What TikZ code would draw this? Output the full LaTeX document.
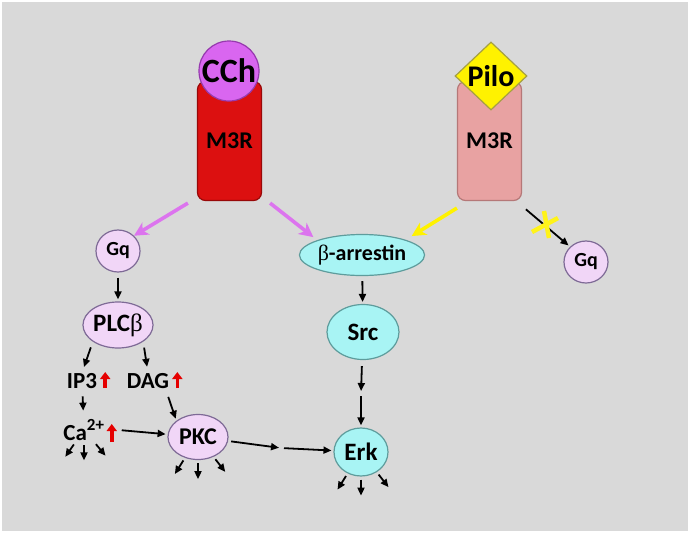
\documentclass[tikz,border=0pt]{standalone}
\usepackage{fontspec}
\setmainfont{Carlito}
\newfontfamily\grkfont{Liberation Serif}
\usetikzlibrary{shapes.geometric,arrows.meta}
\definecolor{bggrey}{HTML}{D9D9D9}
\definecolor{lilac}{HTML}{F1D6F7}
\definecolor{lilacline}{HTML}{7E6A96}
\definecolor{aqua}{HTML}{A8F4F4}
\definecolor{aqualine}{HTML}{5E9C9C}
\definecolor{violet}{HTML}{DC74EE}
\definecolor{cchfill}{HTML}{D966F0}
\definecolor{cchline}{HTML}{963AAE}
\definecolor{rfill}{HTML}{DC1010}
\definecolor{rline}{HTML}{980808}
\definecolor{pfill}{HTML}{E8A2A2}
\definecolor{pline}{HTML}{B57878}
\newcommand{\fs}[1]{\fontsize{#1}{#1}\selectfont\bfseries}
\begin{document}
\begin{tikzpicture}[x=1pt,y=-1pt,
  lil/.style={ellipse,draw=lilacline,fill=lilac,line width=1.2pt,inner sep=0pt},
  aq/.style={ellipse,draw=aqualine,fill=aqua,line width=1.2pt,inner sep=0pt},
  rec/.style={rectangle,rounded corners=8pt,line width=1.2pt,minimum width=64pt,minimum height=119pt},
  lbl/.style={inner sep=0pt,font=\fs{23}},
  arr/.style={-{Triangle[length=8pt,width=7pt]},line width=1.8pt,shorten <=3pt,shorten >=2pt},
  varr/.style={-{Stealth[length=14pt,width=14pt,inset=4pt]},line width=3.6pt},
  risearr/.style={-{Triangle[length=7pt,width=10pt]},line width=3.5pt,red!90!black},
  xmark/.style={line width=4.5pt,yellow!90!white}]
\fill[white] (0,0) rectangle (690,533);
\fill[bggrey] (2,2) rectangle (688,531);
\node[rec,draw=rline,fill=rfill] (m3ra) at (229.5,141) {\fs{24}M3R};
\node[circle,draw=cchline,fill=cchfill,line width=1.2pt,minimum size=60pt,inner sep=0pt] (cch) at (229,71) {\fs{34}CCh};
\node[rec,draw=pline,fill=pfill] (m3rb) at (489.5,141) {\fs{24}M3R};
\node[diamond,draw=black!40!yellow,fill=yellow,line width=1.2pt,inner sep=0pt,minimum width=72pt,minimum height=68pt] (pilo) at (491,76) {\fs{30}Pilo};
\node[lil,minimum width=44pt,minimum height=42pt] (gqa) at (118,251) {\fs{20}Gq};
\node[lil,minimum width=64pt,minimum height=46pt] (plc) at (118,325) {\fs{25}PLC{\grkfont\mdseries β}};
\node[lbl,anchor=base] (ip3) at (82,388) {IP3};
\node[lbl,anchor=base] (dag) at (148,388) {DAG};
\node[lbl,anchor=base] (ca) at (84,440) {Ca\textsuperscript{\fs{17}2+}};
\node[lil,minimum width=60pt,minimum height=45pt] (pkc) at (198,437) {\fs{24}PKC};
\node[aq,minimum width=104pt,minimum height=41pt] (barr) at (362,255) {\fs{22}{\grkfont\mdseries β}-arrestin};
\node[aq,minimum width=72pt,minimum height=55pt] (src) at (363,332) {\fs{25}Src};
\node[aq,minimum width=54pt,minimum height=48pt] (erk) at (361,452) {\fs{25}Erk};
\node[lil,minimum width=44pt,minimum height=42pt] (gqb) at (586,262) {\fs{20}Gq};
\coordinate (mid1) at (281,448);
\coordinate (mid2) at (361,393);
\draw[varr,violet] ([shift={(-9pt,-2pt)}]m3ra.south west) -- (gqa.north east);
\draw[varr,violet] ([shift={(8pt,-2pt)}]m3ra.south east) -- ([shift={(-4pt,3pt)}]barr.north west);
\draw[varr,yellow] ([shift={(0pt,-7pt)}]m3rb.south west) -- ([shift={(5pt,4pt)}]barr.north east);
\draw[arr,shorten <=5pt] ([shift={(0pt,-5pt)}]m3rb.south east) -- (gqb.north west);
\draw[xmark] (532,232) -- (558,218);
\draw[xmark] (544,211) -- (549,238);
\draw[arr,shorten <=5pt] (gqa) -- (plc);
\draw[arr,shorten <=6pt,shorten >=6pt] (plc.south west) -- (ip3.north);
\draw[arr,shorten <=6pt,shorten >=6pt] (plc.south east) -- (dag.north);
\draw[arr,shorten <=8pt,shorten >=9pt] (ip3) -- (ca);
\draw[arr,shorten <=9pt] ([xshift=-4pt]dag.south east) -- (pkc.north west);
\draw[arr] ([xshift=14pt]ca.east) -- (pkc);
\draw[risearr] ([xshift=8pt]ip3.base east) -- ++(0,-16);
\draw[risearr] ([xshift=8pt]dag.base east) -- ++(0,-16);
\draw[risearr] ([shift={(7pt,-2pt)}]ca.base east) -- ++(0,-18);
\draw[arr] (pkc) -- (mid1);
\draw[arr] (mid1) -- (erk);
\draw[arr,shorten <=5pt] (barr) -- (src);
\draw[arr,shorten <=6pt] (src) -- (mid2);
\draw[arr] (mid2) -- (erk);
\foreach \a in {-125,-90,-50}
  \draw[arr,shorten <=5pt] (ca.\a) -- ++(\a:22pt);
\foreach \a in {-122,-90,-52} {
  \draw[arr] (pkc.\a) -- ++(\a:21pt);
  \draw[arr] (erk.\a) -- ++(\a:21pt);
}
\end{tikzpicture}
\end{document}
